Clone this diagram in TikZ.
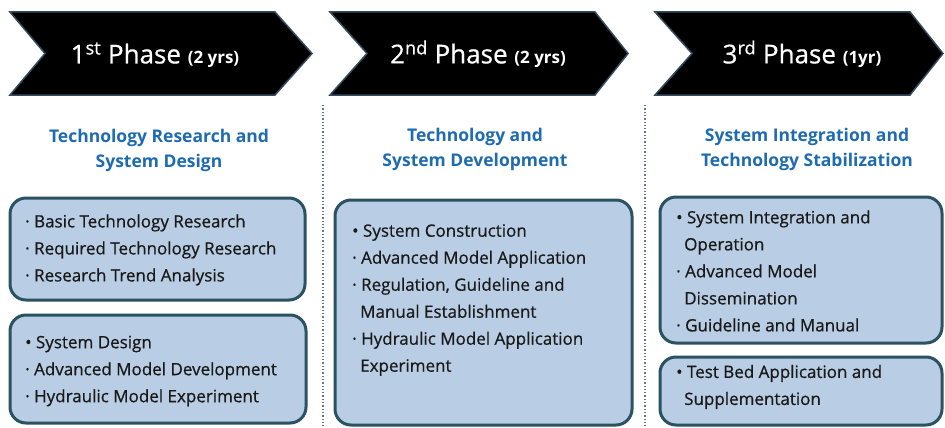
\documentclass[tikz,border=0pt]{standalone}
\usepackage{fontspec}
\setmainfont{Open Sans}
\newfontfamily\itemfont[FakeBold=0.6]{Open Sans}
\definecolor{chevedge}{RGB}{55,75,95}
\definecolor{headblue}{RGB}{31,107,176}
\definecolor{panelfill}{RGB}{185,205,228}
\definecolor{paneledge}{RGB}{42,82,96}
\definecolor{dotgray}{RGB}{100,115,135}
\begin{document}
\begin{tikzpicture}[x=1pt,y=-1pt,
  chevron/.style={fill=black, draw=chevedge, line width=1.5pt, line join=miter},
  phasetext/.style={text=white, font=\itemfont\fontsize{26}{30}\selectfont, inner sep=0},
  heading/.style={text=headblue, font=\fontsize{17.5}{25}\selectfont\bfseries, align=center, inner sep=0},
  panel/.style={draw=paneledge, fill=panelfill, line width=3pt, rounded corners=16pt, inner sep=0},
  items/.style={font=\itemfont\fontsize{17}{27}\selectfont, text=black!90, align=left, inner sep=0, anchor=west},
  divider/.style={draw=dotgray, line width=1.3pt, dotted}
]
\useasboundingbox (0,0) rectangle (945,428);
\fill[white] (0,0) rectangle (945,428);

% phase chevrons
\draw[chevron] (10,12) -- (275,12) -- (312,53.5) -- (275,95) -- (10,95) -- (45,53.5) -- cycle;
\draw[chevron] (330,12) -- (595,12) -- (628,53.5) -- (595,95) -- (330,95) -- (367,53.5) -- cycle;
\draw[chevron] (655,12) -- (910,12) -- (943,53.5) -- (910,95) -- (655,95) -- (692,53.5) -- cycle;

\node[phasetext] (p1) at (155,55) {1\textsuperscript{st} Phase\ {\normalfont\fontsize{17}{20}\selectfont\bfseries(2 yrs)}};
\node[phasetext] (p2) at (478,54) {2\textsuperscript{nd} Phase\ {\normalfont\fontsize{17}{20}\selectfont\bfseries(2 yrs)}};
\node[phasetext] (p3) at (802,54) {3\textsuperscript{rd} Phase\ {\normalfont\fontsize{17}{20}\selectfont\bfseries(1yr)}};

% column dividers
\coordinate (d1top) at (323,105);
\coordinate (d1bot) at (323,428);
\coordinate (d2top) at (645,105);
\coordinate (d2bot) at (645,428);
\draw[divider] (d1top) -- (d1bot);
\draw[divider] (d2top) -- (d2bot);

% column headings
\node[heading] (h1) at (159,150) {Technology Research and\\System Design};
\node[heading] (h2) at (475,149) {Technology and\\System Development};
\node[heading] (h3) at (807,149) {System Integration and\\Technology Stabilization};

% task panels
\node[panel, minimum width=295pt, minimum height=102pt] (b1) at (157.5,249) {};
\node[panel, minimum width=296pt, minimum height=108pt] (b2) at (158,369) {};
\node[panel, minimum width=297pt, minimum height=225pt] (b3) at (483.5,312.5) {};
\node[panel, minimum width=282pt, minimum height=146pt] (b4) at (801,270) {};
\node[panel, minimum width=282pt, minimum height=68pt] (b5) at (801,391) {};

\node[items] (t1) at (25,250) {· Basic Technology Research\\· Required Technology Research\\· Research Trend Analysis};
\node[items] (t2) at (25,371) {• System Design\\· Advanced Model Development\\· Hydraulic Model Experiment};
\node[items] (t3) at (352,300) {• System Construction\\· Advanced Model Application\\· Regulation, Guideline and\\\hspace*{8pt}Manual Establishment\\· Hydraulic Model Application\\\hspace*{8pt}Experiment};
\node[items] (t4) at (676,271) {• System Integration and\\\hspace*{8pt}Operation\\· Advanced Model\\\hspace*{8pt}Dissemination\\· Guideline and Manual};
\node[items] (t5) at (676,387) {• Test Bed Application and\\\hspace*{8pt}Supplementation};
\end{tikzpicture}
\end{document}
